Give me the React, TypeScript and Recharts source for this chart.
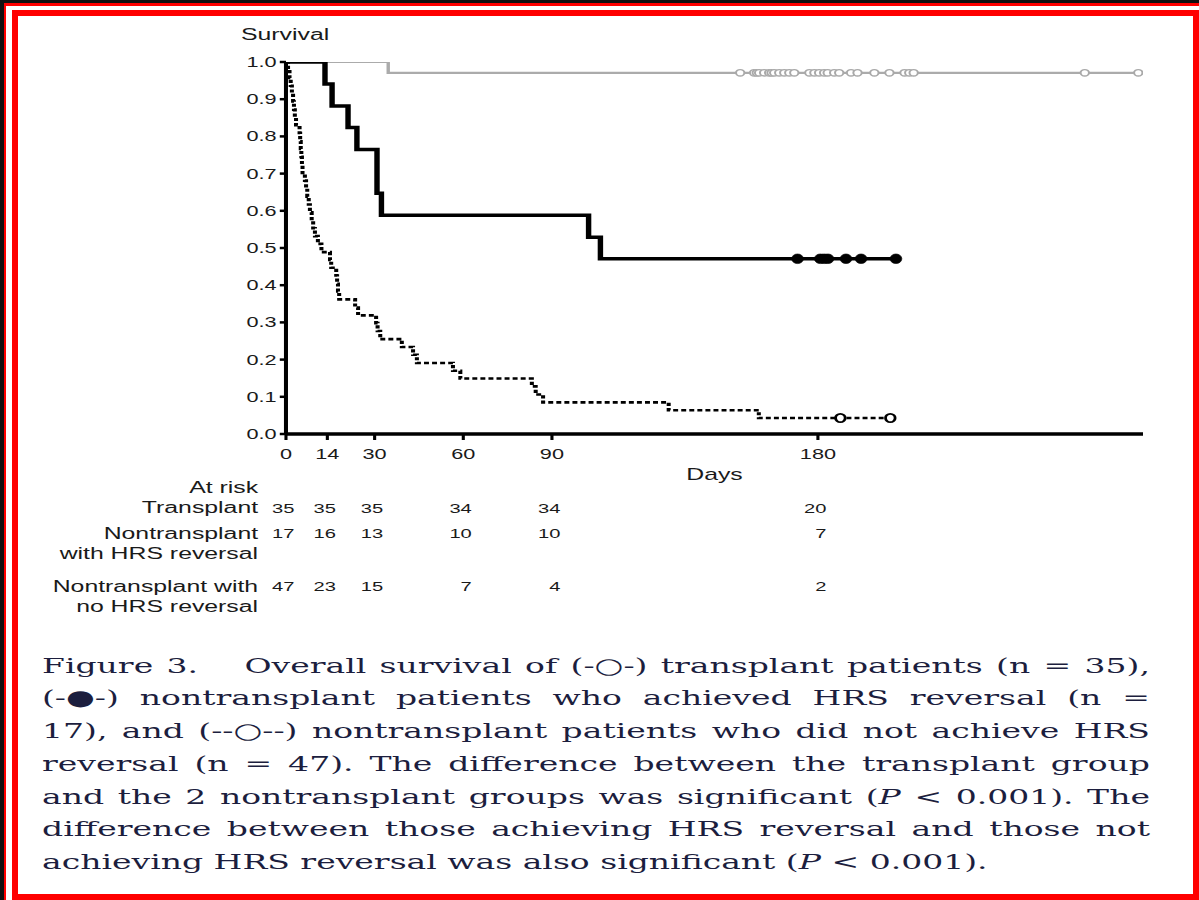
import React from 'react';
import { LineChart, Line, XAxis, YAxis } from 'recharts';

// Horizontal stretch of the original figure
const S = 1.55;
const W = 1199 / S;

const FONT = '"Liberation Sans", Arial, Helvetica, sans-serif';
const SERIF = '"DejaVu Serif", "Liberation Serif", serif';
const INK = '#1a1a1a';

// ---- axes ----
const xTicks = [0, 14, 30, 60, 90, 180];
const yTicks = [0, 0.1, 0.2, 0.3, 0.4, 0.5, 0.6, 0.7, 0.8, 0.9, 1.0];

// ---- Transplant (gray, open circles) ----
const transplantEventDays = [0, 34.6];
const transplantEventSurv = [1.0, 0.971];
const transplantCensorDays = [
  153.7, 158.4, 159.3, 160.1, 161.8, 163.5, 164.3, 165.2, 166.9, 168.6, 170.3, 172.0,
  177.1, 178.8, 180.4, 182.1, 183.3, 185.5, 187.2, 191.2, 193.4, 199.1, 204.2, 209.3,
  210.9, 212.4, 270.3, 288.4,
];
const transplantCensorSurv = [
  0.971, 0.971, 0.971, 0.971, 0.971, 0.971, 0.971, 0.971, 0.971, 0.971, 0.971, 0.971,
  0.971, 0.971, 0.971, 0.971, 0.971, 0.971, 0.971, 0.971, 0.971, 0.971, 0.971, 0.971,
  0.971, 0.971, 0.971, 0.971,
];

// ---- Nontransplant with HRS reversal (thick black, filled dots) ----
const reversalEventDays = [0, 13.2, 15.6, 21.0, 24.0, 30.8, 32.3, 102.4, 106.4];
const reversalEventSurv = [1.0, 0.941, 0.882, 0.824, 0.765, 0.647, 0.588, 0.529, 0.471];
const reversalCensorDays = [173.1, 180.8, 182.1, 183.4, 189.5, 194.6, 206.4];
const reversalCensorSurv = [0.471, 0.471, 0.471, 0.471, 0.471, 0.471, 0.471];

// ---- Nontransplant with no HRS reversal (dotted, open circles) ----
const noReversalEventDays = [
  0, 0.7, 1.2, 1.6, 2.0, 2.4, 2.7, 3.0, 3.4, 4.6, 4.8, 5.0, 5.2, 5.4, 5.6, 6.4, 6.8, 7.2,
  7.7, 8.1, 8.7, 9.2, 9.8, 10.8, 12.0, 14.9, 15.3, 17.0, 17.3, 17.6, 18.0, 23.4, 24.4,
  30.5, 31.0, 31.9, 39.2, 43.0, 44.3, 56.5, 59.0, 83.2, 84.5, 87.0, 129.5, 160.0,
];
const noReversalEventSurv = [
  1.0, 0.979, 0.957, 0.936, 0.915, 0.894, 0.872, 0.851, 0.83, 0.809, 0.787, 0.766, 0.745,
  0.723, 0.702, 0.681, 0.66, 0.638, 0.617, 0.596, 0.574, 0.553, 0.532, 0.511, 0.489, 0.468,
  0.447, 0.426, 0.404, 0.383, 0.362, 0.34, 0.319, 0.298, 0.277, 0.255, 0.234, 0.213, 0.191,
  0.17, 0.149, 0.128, 0.106, 0.085, 0.064, 0.043,
];
const noReversalCensorDays = [187.6, 204.5];
const noReversalCensorSurv = [0.043, 0.043];

// ---- At-risk table ----
const riskTransplant = [35, 35, 35, 34, 34, 20];
const riskReversal = [17, 16, 13, 10, 10, 7];
const riskNoReversal = [47, 23, 15, 7, 4, 2];

type Pt = { d: number; s: number | null; c: boolean };

function buildSeries(eDays: number[], eSurv: number[], cDays: number[], cSurv: number[]): Pt[] {
  const pts: Pt[] = eDays
    .map((d, i) => ({ d, s: eSurv[i], c: false }))
    .concat(cDays.map((d, i) => ({ d, s: cSurv[i], c: true })));
  pts.sort((a, b) => a.d - b.d);
  return pts;
}

// invisible anchor rows so the at-risk axes share the day scale
const riskAnchor: Pt[] = xTicks.map((d) => ({ d, s: null, c: false }));

const makeRiskTick = (values: number[]) => (props: any) => {
  const { x, y, payload } = props;
  const i = xTicks.indexOf(payload.value);
  return (
    <text
      key={`rt-${payload.value}`}
      x={x + 5.5}
      y={y}
      dy="0.71em"
      textAnchor="end"
      fontSize={13}
      fontFamily={FONT}
      fill={INK}
    >
      {i >= 0 ? values[i] : ''}
    </text>
  );
};

const grayDot = (p: any) =>
  p.payload && p.payload.c ? (
    <ellipse key={`g${p.index}`} cx={p.cx} cy={p.cy} rx={2.7} ry={3.2} fill="#fff" stroke="#a9a9a9" strokeWidth={1.3} />
  ) : (
    <g key={`g${p.index}`} />
  );

const blackDot = (p: any) =>
  p.payload && p.payload.c ? (
    <ellipse key={`b${p.index}`} cx={p.cx} cy={p.cy} rx={3.8} ry={4.8} fill="#000" stroke="#000" strokeWidth={0.5} />
  ) : (
    <g key={`b${p.index}`} />
  );

const openDot = (p: any) =>
  p.payload && p.payload.c ? (
    <ellipse key={`o${p.index}`} cx={p.cx} cy={p.cy} rx={3.1} ry={4.2} fill="#fff" stroke="#000" strokeWidth={1.8} />
  ) : (
    <g key={`o${p.index}`} />
  );

const rowLabel = (text: string, centerY: number) => (
  <div
    style={{
      position: 'absolute',
      left: 0,
      width: 166.5,
      top: centerY - 10,
      height: 20,
      lineHeight: '20px',
      fontSize: 16,
      fontFamily: FONT,
      color: INK,
      textAlign: 'right',
      whiteSpace: 'nowrap',
    }}
  >
    {text}
  </div>
);

const capLine = (content: React.ReactNode, idx: number, last = false) => (
  <div
    key={idx}
    style={{
      height: 32.8,
      lineHeight: '32.8px',
      whiteSpace: 'nowrap',
      textAlign: last ? 'left' : 'justify',
      textAlignLast: last ? 'left' : 'justify',
      textJustify: 'inter-word',
    } as React.CSSProperties}
  >
    {content}
  </div>
);

// symbols kept atomic so they do not alter justification
const sym = (ch: string) => <span style={{ display: 'inline-block' }}>{ch}</span>;

const riskAxis = (id: string, h: number, values: number[]) => (
  <XAxis
    xAxisId={id}
    dataKey="d"
    type="number"
    domain={[0, 290]}
    ticks={xTicks}
    interval={0}
    allowDataOverflow
    height={h}
    tickSize={0}
    tickMargin={0}
    axisLine={false}
    tickLine={false}
    tick={makeRiskTick(values)}
  />
);

const hiddenLine = (id: string) => (
  <Line
    xAxisId={id}
    data={riskAnchor}
    dataKey="s"
    stroke="none"
    dot={false}
    activeDot={false}
    legendType="none"
    isAnimationActive={false}
  />
);

export default function App() {
  const transplantData = buildSeries(transplantEventDays, transplantEventSurv, transplantCensorDays, transplantCensorSurv);
  const reversalData = buildSeries(reversalEventDays, reversalEventSurv, reversalCensorDays, reversalCensorSurv);
  const noReversalData = buildSeries(noReversalEventDays, noReversalEventSurv, noReversalCensorDays, noReversalCensorSurv);

  const plotLeft = 184.5;
  const plotRight = 1143 / S;

  return (
    <div style={{ position: 'absolute', left: 0, top: 0, width: 1199, height: 900, background: '#fff', overflow: 'hidden' }}>
      {/* frame */}
      <div style={{ position: 'absolute', left: 0, top: 0, width: 1199, height: 3, background: '#111' }} />
      <div style={{ position: 'absolute', left: 0, top: 0, width: 4, height: 900, background: '#111' }} />
      <div style={{ position: 'absolute', left: 4, top: 3, width: 1195, height: 3, background: '#ff0000' }} />
      <div style={{ position: 'absolute', left: 4, top: 3, width: 2, height: 897, background: '#ff0000' }} />
      <div
        style={{
          position: 'absolute',
          left: 12,
          top: 10,
          width: 1187,
          height: 890,
          border: '6px solid #ff0000',
          boxSizing: 'border-box',
        }}
      />

      {/* stretched content */}
      <div
        style={{
          position: 'absolute',
          left: 0,
          top: 0,
          width: W,
          height: 900,
          transform: `scaleX(${S})`,
          transformOrigin: '0 0',
        }}
      >
        <div style={{ position: 'absolute', left: 0, top: 0 }}>
          <LineChart
            width={W}
            height={612}
            margin={{ top: 62, right: W - plotRight, left: plotLeft - 50, bottom: 0 }}
          >
            <XAxis
              xAxisId="main"
              dataKey="d"
              type="number"
              domain={[0, 290]}
              ticks={xTicks}
              interval={0}
              allowDataOverflow
              height={70}
              tickSize={6}
              tickMargin={9}
              axisLine={{ stroke: '#000', strokeWidth: 3.5 }}
              tickLine={{ stroke: '#000', strokeWidth: 2 }}
              tick={{ fontSize: 14, fill: INK, fontFamily: FONT }}
              label={{ value: 'Days', position: 'insideBottom', offset: 24, fontSize: 16, fill: INK, fontFamily: FONT }}
            />
            {riskAxis('r1', 25, riskTransplant)}
            {riskAxis('r2', 53, riskReversal)}
            {riskAxis('r3', 30, riskNoReversal)}
            <YAxis
              type="number"
              domain={[0, 1]}
              ticks={yTicks}
              interval={0}
              allowDataOverflow
              width={50}
              tickSize={4}
              tickMargin={2}
              tickFormatter={(v: number) => v.toFixed(1)}
              axisLine={{ stroke: '#000', strokeWidth: 2.6 }}
              tickLine={{ stroke: '#000', strokeWidth: 2.5 }}
              tick={{ fontSize: 14, fill: INK, fontFamily: FONT }}
            />
            {hiddenLine('r1')}
            {hiddenLine('r2')}
            {hiddenLine('r3')}
            <Line
              xAxisId="main"
              data={transplantData}
              dataKey="s"
              type="stepAfter"
              stroke="#ababab"
              strokeWidth={2.2}
              dot={grayDot}
              activeDot={false}
              isAnimationActive={false}
            />
            <Line
              xAxisId="main"
              data={noReversalData}
              dataKey="s"
              type="stepAfter"
              stroke="#000"
              strokeWidth={2.6}
              strokeDasharray="3.2 2"
              dot={openDot}
              activeDot={false}
              isAnimationActive={false}
            />
            <Line
              xAxisId="main"
              data={reversalData}
              dataKey="s"
              type="stepAfter"
              stroke="#000"
              strokeWidth={3.5}
              dot={blackDot}
              activeDot={false}
              isAnimationActive={false}
            />
          </LineChart>
        </div>

        {/* y axis title */}
        <div
          style={{
            position: 'absolute',
            left: 155.5,
            top: 27,
            height: 16,
            lineHeight: '16px',
            fontSize: 16,
            fontFamily: FONT,
            color: INK,
            whiteSpace: 'nowrap',
          }}
        >
          Survival
        </div>

        {/* at-risk row labels */}
        {rowLabel('At risk', 488)}
        {rowLabel('Transplant', 508)}
        {rowLabel('Nontransplant', 534)}
        {rowLabel('with HRS reversal', 554)}
        {rowLabel('Nontransplant with', 587)}
        {rowLabel('no HRS reversal', 607)}

        {/* caption */}
        <div
          style={{
            position: 'absolute',
            left: 27.1,
            top: 649.5,
            width: 714.8,
            fontFamily: SERIF,
            fontSize: 21.3,
            color: '#1c1e3e',
          }}
        >
          {capLine(<>Figure 3.{'\u2003'} Overall survival of (-{sym('○')}-) transplant patients (n = 35),</>, 0)}
          {capLine(<>(-{sym('●')}-) nontransplant patients who achieved HRS reversal (n =</>, 1)}
          {capLine(<>17), and (--{sym('○')}--) nontransplant patients who did not achieve HRS</>, 2)}
          {capLine(<>reversal (n = 47). The difference between the transplant group</>, 3)}
          {capLine(<>and the 2 nontransplant groups was significant (<i>P</i> &lt; 0.001). The</>, 4)}
          {capLine(<>difference between those achieving HRS reversal and those not</>, 5)}
          {capLine(<>achieving HRS reversal was also significant (<i>P</i> &lt; 0.001).</>, 6, true)}
        </div>
      </div>
    </div>
  );
}
